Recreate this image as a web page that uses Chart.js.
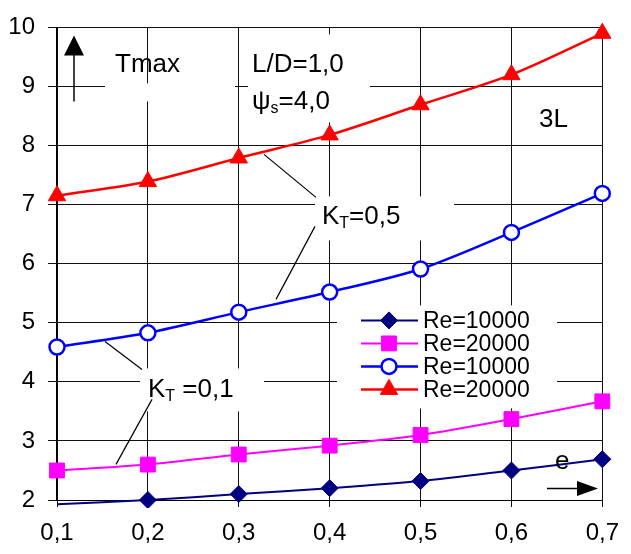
<!DOCTYPE html>
<html>
<head>
<meta charset="utf-8">
<script src="https://cdn.jsdelivr.net/npm/chart.js@4.4.1/dist/chart.umd.min.js"></script>
<style>
body { margin: 0; background: #fff; }
</style>
</head>
<body>
<canvas id="myChart" width="631" height="554"></canvas>
<script>
// waarden
const eLabels = ['0,1', '0,2', '0,3', '0,4', '0,5', '0,6', '0,7'];
const yMin = 2;
const yMax = 10;
const seriesLabels = ['Re=10000', 'Re=20000', 'Re=10000', 'Re=20000'];
const re10000Kt01 = [1.93, 2.00, 2.10, 2.20, 2.32, 2.50, 2.69];
const re20000Kt01 = [2.50, 2.60, 2.77, 2.92, 3.10, 3.37, 3.67];
const re10000Kt05 = [4.59, 4.83, 5.18, 5.52, 5.91, 6.53, 7.19];
const re20000Kt05 = [7.15, 7.39, 7.79, 8.18, 8.69, 9.20, 9.90];

const FONT = '"Liberation Sans", Arial, sans-serif';

// punt verbergen als hij onder de as valt
const hideBelow = (r) => (ctx) => (ctx.parsed && ctx.parsed.y < yMin ? 0 : r);

const datasets = [
    {
        label: seriesLabels[0], data: re10000Kt01,
        borderColor: '#000080', backgroundColor: '#000080', borderWidth: 2,
        pointStyle: 'rectRot', pointRadius: hideBelow(8.5), pointBorderWidth: 1
    },
    {
        label: seriesLabels[1], data: re20000Kt01,
        borderColor: '#ff00ff', backgroundColor: '#ff00ff', borderWidth: 2,
        pointStyle: 'rect', pointRadius: 10.5, pointBorderWidth: 1
    },
    {
        label: seriesLabels[2], data: re10000Kt05,
        borderColor: '#0000ff', backgroundColor: '#ffffff', borderWidth: 2.5,
        pointStyle: 'circle', pointRadius: 7.5, pointBorderWidth: 2.5
    },
    {
        label: seriesLabels[3], data: re20000Kt05,
        borderColor: '#ff0000', backgroundColor: '#ff0000', borderWidth: 2.5,
        pointStyle: 'triangle', pointRadius: 10, pointBorderWidth: 1
    }
];
datasets.forEach(d => {
    d.tension = 0.3;
    d.fill = false;
    d.pointHoverRadius = d.pointRadius;
    d.clip = { left: 12, right: 12, top: 12, bottom: 8 };
});

const whiteBoxes = {
    id: 'whiteBoxes',
    beforeDatasetsDraw(chart) {
        const ctx = chart.ctx;
        const a = chart.chartArea;
        ctx.save();
        ctx.fillStyle = '#fff';
        // vakjes achter de teksten (relatief aan chartArea)
        const boxes = [
            [48, 56, 130, 18],    // Tmax
            [191, 7, 122, 88],    // L/D, psi
            [258, 169, 139, 44],  // KT=0,5
            [83, 341, 124, 43],   // KT=0,1
            [280, 278, 220, 103]  // legenda
        ];
        boxes.forEach(b => ctx.fillRect(a.left + b[0], a.top + b[1], b[2], b[3]));
        ctx.restore();
    }
};

function subText(ctx, x, y, main, sub, rest, size) {
    ctx.font = size + 'px ' + FONT;
    ctx.fillText(main, x, y);
    x += ctx.measureText(main).width;
    ctx.font = Math.round(size * 0.62) + 'px ' + FONT;
    ctx.fillText(sub, x, y + size * 0.28);
    x += ctx.measureText(sub).width;
    ctx.font = size + 'px ' + FONT;
    ctx.fillText(rest, x, y);
}

const annotations = {
    id: 'annotations',
    afterDatasetsDraw(chart) {
        const ctx = chart.ctx;
        const a = chart.chartArea;
        const L = a.left, T = a.top;
        ctx.save();
        ctx.fillStyle = '#000';
        ctx.strokeStyle = '#000';
        ctx.textBaseline = 'middle';
        ctx.textAlign = 'left';

        // pijl Tmax
        ctx.lineWidth = 1.5;
        ctx.beginPath();
        ctx.moveTo(L + 17, T + 74);
        ctx.lineTo(L + 17, T + 26);
        ctx.stroke();
        ctx.beginPath();
        ctx.moveTo(L + 17, T + 8);
        ctx.lineTo(L + 27, T + 28);
        ctx.lineTo(L + 7, T + 28);
        ctx.closePath();
        ctx.fill();

        ctx.font = '26px ' + FONT;
        ctx.fillText('Tmax', L + 58, T + 37);
        ctx.fillText('L/D=1,0', L + 195, T + 37);
        subText(ctx, L + 195, T + 74, 'ψ', 's', '=4,0', 26);
        ctx.font = '26px ' + FONT;
        ctx.fillText('3L', L + 482, T + 92);

        subText(ctx, L + 265, T + 189, 'K', 'T', '=0,5', 26);
        subText(ctx, L + 91, T + 362, 'K', 'T', ' =0,1', 26);

        // verbindingslijnen
        ctx.lineWidth = 1.2;
        const lines = [
            [207, 127, 259, 170],
            [258, 199, 219, 272],
            [48, 314, 85, 342],
            [95, 372, 59, 437]
        ];
        lines.forEach(l => {
            ctx.beginPath();
            ctx.moveTo(L + l[0], T + l[1]);
            ctx.lineTo(L + l[2], T + l[3]);
            ctx.stroke();
        });

        // e met pijl
        ctx.font = '26px ' + FONT;
        ctx.fillText('e', L + 498, T + 434);
        ctx.lineWidth = 1.5;
        ctx.beginPath();
        ctx.moveTo(L + 490, T + 461);
        ctx.lineTo(L + 524, T + 461);
        ctx.stroke();
        ctx.beginPath();
        ctx.moveTo(L + 541, T + 461);
        ctx.lineTo(L + 520, T + 453.5);
        ctx.lineTo(L + 520, T + 468.5);
        ctx.closePath();
        ctx.fill();

        // legenda
        ctx.font = '23px ' + FONT;
        chart.data.datasets.forEach((ds, i) => {
            const y = T + 293 + i * 23;
            const x0 = L + 304;
            ctx.strokeStyle = ds.borderColor;
            ctx.lineWidth = ds.borderWidth;
            ctx.beginPath();
            ctx.moveTo(x0, y);
            ctx.lineTo(x0 + 57, y);
            ctx.stroke();
            ctx.fillStyle = ds.backgroundColor;
            ctx.strokeStyle = ds.borderColor;
            ctx.lineWidth = ds.pointBorderWidth;
            const r = typeof ds.pointRadius === 'function' ? 8.5 : ds.pointRadius;
            Chart.helpers.drawPoint(ctx, { pointStyle: ds.pointStyle, radius: r, borderWidth: ds.pointBorderWidth }, x0 + 28, y);
            ctx.fillStyle = '#000';
            ctx.fillText(ds.label, x0 + 62, y + 1);
        });
        ctx.restore();
    }
};

const renderChart = () => {
    const ctx = document.getElementById('myChart').getContext('2d');
    new Chart(ctx, {
        type: 'line',
        data: { labels: eLabels, datasets: datasets },
        options: {
            responsive: false,
            animation: false,
            layout: { padding: { top: 24, right: 20, left: 0, bottom: 0 } },
            plugins: { legend: { display: false }, tooltip: { enabled: false } },
            scales: {
                x: {
                    offset: false,
                    grid: { color: '#111', lineWidth: 1, tickLength: 7 },
                    border: { color: '#000', width: 1 },
                    ticks: { color: '#000', font: { family: FONT, size: 24 }, padding: 12, maxRotation: 0 },
                    afterFit: (s) => { s.height = 54; }
                },
                y: {
                    min: yMin, max: yMax,
                    grid: { color: '#111', lineWidth: 1, tickLength: 9 },
                    border: { color: '#000', width: 1.5 },
                    ticks: { stepSize: 1, color: '#000', font: { family: FONT, size: 24 }, padding: 13 },
                    afterFit: (s) => { s.width = 57; }
                }
            }
        },
        plugins: [whiteBoxes, annotations]
    });
};

document.addEventListener('DOMContentLoaded', renderChart);
</script>
</body>
</html>
